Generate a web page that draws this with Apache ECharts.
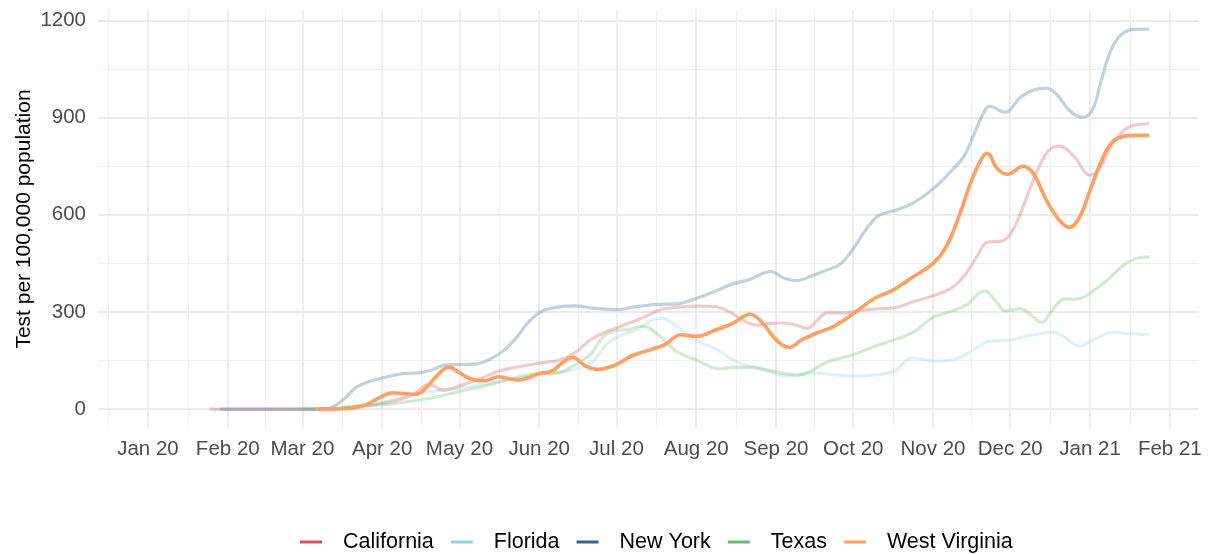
<!DOCTYPE html>
<html>
<head>
<meta charset="utf-8">
<title>Tests per 100,000 population</title>
<script src="https://cdn.jsdelivr.net/npm/echarts@6/dist/echarts.min.js"></script>
<style>
  html, body { margin: 0; padding: 0; background: #fff; }
  #chart { width: 1209px; height: 554px; }
</style>
</head>
<body>
<div id="chart"></div>
<script>
// 州名与颜色
const states = ['California', 'Florida', 'New York', 'Texas', 'West Virginia']
const colors = ['#D3505C', '#8FD5E0', '#2E6A8E', '#67BC6B', '#FFA062']

// 坐标轴刻度
const xTicks = ['2020-01-01', '2020-02-01', '2020-03-01', '2020-04-01', '2020-05-01', '2020-06-01', '2020-07-01',
  '2020-08-01', '2020-09-01', '2020-10-01', '2020-11-01', '2020-12-01', '2021-01-01', '2021-02-01']
const xTickLabels = ['Jan 20', 'Feb 20', 'Mar 20', 'Apr 20', 'May 20', 'Jun 20', 'Jul 20',
  'Aug 20', 'Sep 20', 'Oct 20', 'Nov 20', 'Dec 20', 'Jan 21', 'Feb 21']
const xMinorTicks = ['2019-12-16 12:00', '2020-01-16 12:00', '2020-02-15 12:00', '2020-03-16 12:00', '2020-04-16',
  '2020-05-16 12:00', '2020-06-16', '2020-07-16 12:00', '2020-08-16 12:00', '2020-09-16', '2020-10-16 12:00',
  '2020-11-16', '2020-12-16 12:00', '2021-01-16 12:00']
const yTicks = [0, 300, 600, 900, 1200]
const yMinorTicks = [150, 450, 750, 1050]

// California
const caDates = ['2020-01-25', '2020-03-14', '2020-03-19', '2020-03-26', '2020-04-02', '2020-04-08', '2020-04-14',
  '2020-04-19', '2020-04-25', '2020-05-01', '2020-05-09', '2020-05-16', '2020-05-24', '2020-06-01', '2020-06-09',
  '2020-06-15', '2020-06-21', '2020-06-28', '2020-07-05', '2020-07-12', '2020-07-18', '2020-07-25', '2020-08-02',
  '2020-08-08', '2020-08-14', '2020-08-19', '2020-08-25', '2020-08-29', '2020-09-04', '2020-09-09', '2020-09-13',
  '2020-09-17', '2020-09-21', '2020-09-27', '2020-10-04', '2020-10-11', '2020-10-17', '2020-10-24', '2020-11-01',
  '2020-11-08', '2020-11-13', '2020-11-18', '2020-11-22', '2020-11-28', '2020-12-02', '2020-12-06', '2020-12-11',
  '2020-12-16', '2020-12-20', '2020-12-26', '2021-01-01', '2021-01-05', '2021-01-09', '2021-01-14', '2021-01-18',
  '2021-01-24']
const caValues = [0, 0, 7, 12, 20, 30, 50, 77, 59, 72, 94, 117, 131, 142, 152, 175, 215, 242, 263, 285, 307, 315, 318,
  317, 300, 275, 259, 264, 266, 259, 249, 275, 297, 297, 305, 310, 313, 331, 350, 373, 410, 471, 515, 520, 553, 625,
  727, 799, 812, 778, 722, 748, 809, 860, 876, 881]

// Florida
const flDates = ['2020-03-05', '2020-03-15', '2020-03-25', '2020-04-05', '2020-04-18', '2020-05-01', '2020-05-16',
  '2020-06-01', '2020-06-12', '2020-06-18', '2020-06-22', '2020-06-27', '2020-07-02', '2020-07-09', '2020-07-15',
  '2020-07-19', '2020-07-24', '2020-08-01', '2020-08-09', '2020-08-17', '2020-08-25', '2020-09-02', '2020-09-08',
  '2020-09-15', '2020-09-23', '2020-10-01', '2020-10-11', '2020-10-17', '2020-10-24', '2020-11-02', '2020-11-11',
  '2020-11-18', '2020-11-23', '2020-11-30', '2020-12-07', '2020-12-18', '2020-12-22', '2020-12-28', '2021-01-02',
  '2021-01-10', '2021-01-17', '2021-01-24']
const flValues = [0, 3, 12, 28, 52, 65, 85, 106, 118, 130, 148, 199, 225, 245, 275, 280, 258, 212, 185, 145, 127, 107,
  102, 112, 107, 102, 107, 118, 158, 148, 158, 189, 210, 212, 225, 237, 222, 195, 213, 237, 233, 230]

// New York
const nyDates = ['2020-01-29', '2020-03-10', '2020-03-13', '2020-03-17', '2020-03-22', '2020-03-28', '2020-04-03',
  '2020-04-09', '2020-04-15', '2020-04-20', '2020-04-26', '2020-05-03', '2020-05-08', '2020-05-13', '2020-05-18',
  '2020-05-23', '2020-05-28', '2020-06-02', '2020-06-08', '2020-06-15', '2020-06-22', '2020-07-01', '2020-07-08',
  '2020-07-16', '2020-07-25', '2020-08-02', '2020-08-09', '2020-08-15', '2020-08-22', '2020-08-30', '2020-09-04',
  '2020-09-09', '2020-09-15', '2020-09-21', '2020-09-26', '2020-10-01', '2020-10-06', '2020-10-11', '2020-10-17',
  '2020-10-24', '2020-11-01', '2020-11-08', '2020-11-13', '2020-11-17', '2020-11-21', '2020-11-23', '2020-11-29',
  '2020-12-05', '2020-12-10', '2020-12-15', '2020-12-19', '2020-12-24', '2020-12-29', '2021-01-02', '2021-01-05',
  '2021-01-09', '2021-01-13', '2021-01-18', '2021-01-24']
const nyValues = [0, 0, 8, 30, 68, 88, 100, 110, 112, 120, 137, 138, 140, 155, 180, 220, 270, 302, 315, 319, 312, 307,
  316, 323, 326, 345, 366, 386, 401, 425, 405, 397, 412, 430, 448, 495, 555, 598, 613, 635, 680, 735, 780, 850, 920,
  935, 916, 963, 985, 991, 972, 922, 901, 925, 1004, 1106, 1155, 1172, 1173]

// Texas
const txDates = ['2020-03-01', '2020-03-12', '2020-03-26', '2020-04-08', '2020-04-21', '2020-05-01', '2020-05-14',
  '2020-05-24', '2020-06-01', '2020-06-08', '2020-06-14', '2020-06-21', '2020-06-26', '2020-07-01', '2020-07-06',
  '2020-07-11', '2020-07-18', '2020-07-24', '2020-08-01', '2020-08-10', '2020-08-17', '2020-08-25', '2020-09-01',
  '2020-09-09', '2020-09-14', '2020-09-21', '2020-10-01', '2020-10-09', '2020-10-17', '2020-10-24', '2020-11-01',
  '2020-11-08', '2020-11-14', '2020-11-21', '2020-11-26', '2020-11-29', '2020-12-05', '2020-12-09', '2020-12-13',
  '2020-12-18', '2020-12-22', '2020-12-27', '2021-01-01', '2021-01-08', '2021-01-14', '2021-01-19', '2021-01-24']
const txValues = [0, 2, 10, 20, 36, 55, 78, 100, 110, 112, 133, 170, 225, 243, 246, 256, 225, 180, 152, 125, 130, 127,
  115, 106, 116, 146, 168, 193, 214, 236, 283, 302, 322, 365, 327, 303, 310, 292, 268, 312, 340, 340, 358, 400, 445,
  465, 470]

// West Virginia
const wvDates = ['2020-03-06', '2020-03-19', '2020-03-26', '2020-03-31', '2020-04-05', '2020-04-10', '2020-04-14',
  '2020-04-18', '2020-04-23', '2020-04-27', '2020-05-01', '2020-05-06', '2020-05-11', '2020-05-16', '2020-05-24',
  '2020-06-01', '2020-06-06', '2020-06-10', '2020-06-14', '2020-06-19', '2020-06-24', '2020-07-01', '2020-07-07',
  '2020-07-15', '2020-07-20', '2020-07-26', '2020-08-01', '2020-08-09', '2020-08-15', '2020-08-22', '2020-08-27',
  '2020-09-01', '2020-09-06', '2020-09-11', '2020-09-17', '2020-09-23', '2020-10-01', '2020-10-09', '2020-10-16',
  '2020-10-24', '2020-11-01', '2020-11-06', '2020-11-11', '2020-11-16', '2020-11-20', '2020-11-22', '2020-11-26',
  '2020-11-30', '2020-12-06', '2020-12-10', '2020-12-15', '2020-12-20', '2020-12-24', '2020-12-28', '2021-01-01',
  '2021-01-05', '2021-01-09', '2021-01-13', '2021-01-18', '2021-01-24']
const wvValues = [0, 2, 15, 36, 51, 48, 46, 66, 110, 130, 112, 92, 88, 100, 90, 110, 118, 143, 160, 133, 123, 138, 165,
  186, 200, 230, 225, 246, 264, 293, 264, 214, 191, 214, 236, 254, 295, 341, 366, 407, 450, 500, 594, 707, 775, 790,
  742, 725, 750, 727, 645, 584, 561, 594, 676, 758, 819, 840, 845, 845]

const allDates = [caDates, flDates, nyDates, txDates, wvDates]
const allValues = [caValues, flValues, nyValues, txValues, wvValues]

const font = "'Liberation Sans', Arial, sans-serif"

// 日期字符串 -> 本地时间戳
function ts(s) {
  const str = s.length === 10 ? s + 'T00:00' : s.replace(' ', 'T')
  return new Date(str).getTime()
}

const xMin = ts('2019-12-12 14:00')
const xMax = ts('2021-02-12 08:00')
const yMin = -58
const yMax = 1232
const xTickValues = xTicks.map(ts)
const xMinorValues = xMinorTicks.map(ts)

const myChart = echarts.init(document.getElementById('chart'))

const series = states.map((name, i) => {
  const highlight = name === 'West Virginia'
  return {
    name: name,
    type: 'line',
    xAxisIndex: 0,
    yAxisIndex: 0,
    smooth: 0.4,
    showSymbol: false,
    symbol: 'none',
    color: colors[i],
    z: highlight ? 10 : 3,
    lineStyle: {
      width: highlight ? 3.6 : 3.2,
      color: colors[i],
      opacity: highlight ? 1 : 0.3
    },
    data: allDates[i].map((d, j) => [ts(d), allValues[i][j]])
  }
})

myChart.setOption({
  animation: false,
  backgroundColor: '#fff',
  textStyle: {
    fontFamily: font
  },
  grid: {
    left: 98,
    right: 10,
    top: 10,
    bottom: 126
  },
  legend: {
    data: states.map((name) => ({ name: name, itemStyle: { opacity: 1 } })),
    left: 295,
    top: 526,
    icon: 'rect',
    itemWidth: 22,
    itemHeight: 3,
    itemGap: 17,
    textStyle: {
      color: '#000',
      fontSize: 21.5,
      fontFamily: font,
      padding: [0, 0, 0, 16]
    }
  },
  xAxis: [
    {
      type: 'value',
      min: xMin,
      max: xMax,
      axisLine: { show: false },
      axisTick: { show: false, customValues: xTickValues },
      axisLabel: {
        customValues: xTickValues,
        color: '#4D4D4D',
        fontSize: 20.5,
        margin: 11,
        hideOverlap: false,
        formatter: (value) => {
          const idx = xTickValues.indexOf(value)
          return idx >= 0 ? xTickLabels[idx] : ''
        }
      },
      splitLine: {
        show: true,
        lineStyle: { color: '#EBEBEB', width: 1.8 }
      }
    },
    {
      // 次网格线
      type: 'value',
      min: xMin,
      max: xMax,
      position: 'bottom',
      axisLine: { show: false },
      axisTick: { show: false, customValues: xMinorValues },
      axisLabel: { show: false },
      splitLine: {
        show: true,
        lineStyle: { color: '#F0F0F0', width: 1 }
      }
    }
  ],
  yAxis: [
    {
      type: 'value',
      min: yMin,
      max: yMax,
      name: 'Test per 100,000 population',
      nameLocation: 'middle',
      nameRotate: 90,
      nameGap: 63,
      nameMoveOverlap: false,
      nameTextStyle: {
        color: '#000',
        fontSize: 21,
        fontFamily: font
      },
      axisLine: { show: false },
      axisTick: { show: false, customValues: yTicks },
      axisLabel: {
        customValues: yTicks,
        color: '#4D4D4D',
        fontSize: 20.5,
        margin: 12,
        formatter: (value) => String(value)
      },
      splitLine: {
        show: true,
        lineStyle: { color: '#EBEBEB', width: 1.8 }
      }
    },
    {
      // 次网格线
      type: 'value',
      min: yMin,
      max: yMax,
      position: 'left',
      axisLine: { show: false },
      axisTick: { show: false, customValues: yMinorTicks },
      axisLabel: { show: false },
      splitLine: {
        show: true,
        lineStyle: { color: '#F0F0F0', width: 1 }
      }
    }
  ],
  series: series
})
</script>
</body>
</html>
